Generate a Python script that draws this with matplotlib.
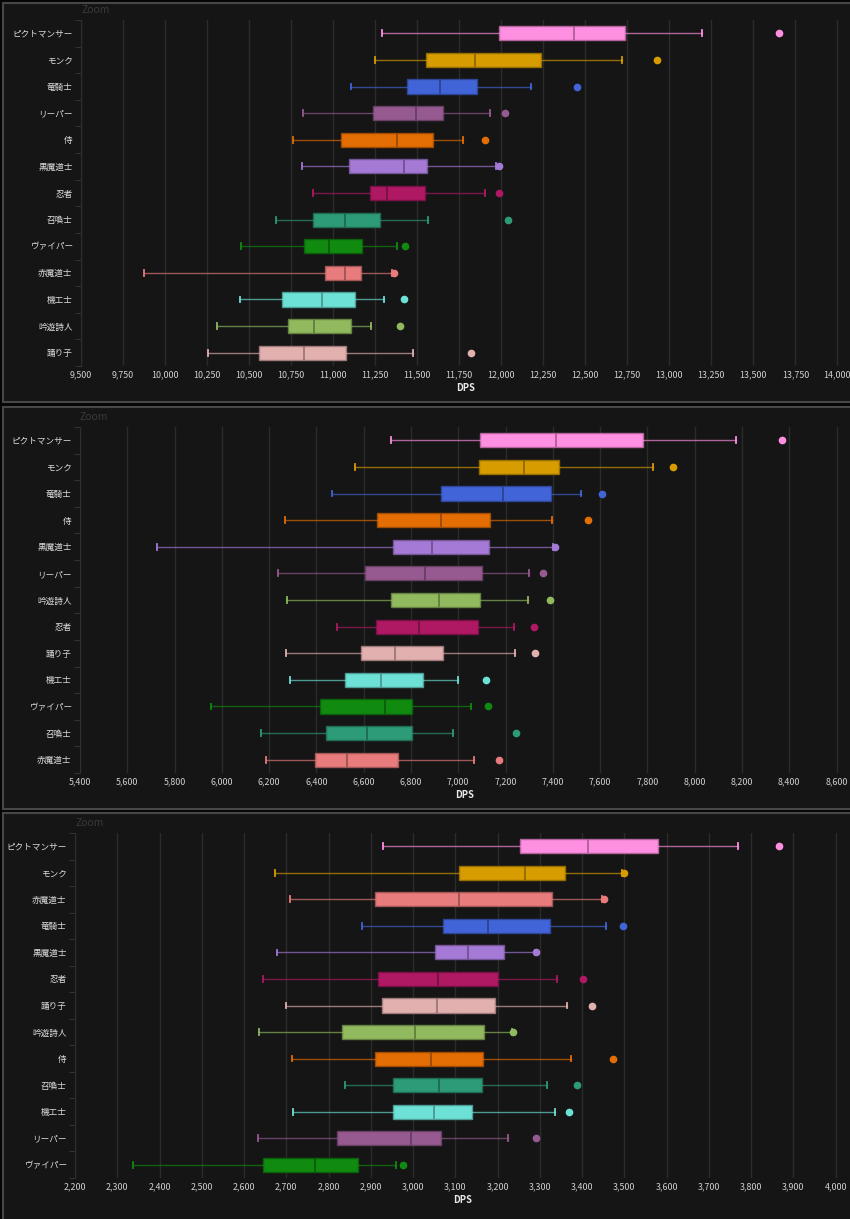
import matplotlib.pyplot as plt
from matplotlib.patches import Rectangle
from matplotlib.ticker import MultipleLocator, StrMethodFormatter, FixedLocator
from matplotlib.colors import to_rgb

plt.rcParams['font.family'] = ['Noto Sans CJK JP', 'DejaVu Sans']

# --- panel 1 ---
jobs_a = ['ピクトマンサー', 'モンク', '竜騎士', 'リーパー', '侍', '黒魔道士', '忍者',
          '召喚士', 'ヴァイパー', '赤魔道士', '機工士', '吟遊詩人', '踊り子']
lo_a = [11288, 11248, 11107, 10820, 10760, 10812, 10883, 10661, 10449, 9873, 10445, 10310, 10258]
q1_a = [11986, 11554, 11440, 11236, 11048, 11094, 11218, 10883, 10827, 10949, 10693, 10734, 10558]
med_a = [12431, 11845, 11637, 11492, 11379, 11423, 11318, 11068, 10974, 11071, 10933, 10885, 10826]
q3_a = [12736, 12234, 11853, 11653, 11592, 11556, 11548, 11280, 11171, 11167, 11133, 11107, 11077]
hi_a = [13193, 12717, 12175, 11933, 11772, 11970, 11901, 11564, 11377, 11353, 11304, 11224, 11476]
out_a = [13653, 12927, 12449, 12024, 11901, 11986, 11985, 12042, 11427, 11361, 11421, 11395, 11818]

# --- panel 2 ---
jobs_b = ['ピクトマンサー', 'モンク', '竜騎士', '侍', '黒魔道士', 'リーパー', '吟遊詩人',
          '忍者', '踊り子', '機工士', 'ヴァイパー', '召喚士', '赤魔道士']
lo_b = [6715, 6564, 6466, 6268, 5727, 6237, 6277, 6488, 6272, 6288, 5955, 6167, 6188]
q1_b = [7094, 7088, 6925, 6656, 6726, 6605, 6715, 6654, 6588, 6522, 6416, 6439, 6395]
med_b = [7413, 7276, 7189, 6926, 6888, 6860, 6918, 6833, 6732, 6675, 6691, 6615, 6530]
q3_b = [7782, 7428, 7392, 7136, 7132, 7102, 7093, 7083, 6936, 6850, 6805, 6805, 6743]
hi_b = [8174, 7825, 7521, 7398, 7402, 7301, 7296, 7235, 7238, 7001, 7053, 6977, 7067]
out_b = [8370, 7907, 7607, 7549, 7410, 7360, 7390, 7322, 7325, 7118, 7126, 7246, 7174]

# --- panel 3 ---
jobs_c = ['ピクトマンサー', 'モンク', '赤魔道士', '竜騎士', '黒魔道士', '忍者', '踊り子',
          '吟遊詩人', '侍', '召喚士', '機工士', 'リーパー', 'ヴァイパー']
lo_c = [2930, 2673, 2708, 2878, 2677, 2646, 2699, 2635, 2714, 2840, 2716, 2632, 2337]
q1_c = [3254, 3109, 2910, 3072, 3053, 2916, 2926, 2833, 2910, 2953, 2953, 2821, 2646]
med_c = [3414, 3266, 3109, 3178, 3130, 3059, 3056, 3005, 3042, 3062, 3050, 2996, 2769]
q3_c = [3579, 3360, 3328, 3324, 3216, 3202, 3195, 3168, 3165, 3164, 3140, 3067, 2869]
hi_c = [3770, 3494, 3446, 3456, 3288, 3341, 3364, 3235, 3373, 3316, 3336, 3224, 2960]
out_c = [3866, 3500, 3451, 3496, 3292, 3403, 3423, 3236, 3473, 3387, 3370, 3291, 2976]

colors = {
    'ピクトマンサー': '#ff8fe1', 'モンク': '#d69c00', '竜騎士': '#4164d8',
    'リーパー': '#965a90', '侍': '#e46d04', '黒魔道士': '#a579d6',
    '忍者': '#af1964', '召喚士': '#2d9b78', 'ヴァイパー': '#108a0f',
    '赤魔道士': '#e87b7b', '機工士': '#6ee1d6', '吟遊詩人': '#91ba5e',
    '踊り子': '#e2b0af',
}


def shade(c, f):
    r, g, b = to_rgb(c)
    return (r * f, g * f, b * f)


W, H = 850, 1219
fig = plt.figure(figsize=(W / 100, H / 100), dpi=100, facecolor='#050505')

# (data, xlim, step, axes top, axes bottom, axes left, panel top, panel bottom, zoom y)
panels = [
    ((jobs_a, lo_a, q1_a, med_a, q3_a, hi_a, out_a), (9500, 14075), 250, 20, 366, 81, 3, 402, 10),
    ((jobs_b, lo_b, q1_b, med_b, q3_b, hi_b, out_b), (5400, 8657), 200, 427, 773, 80, 407, 809, 417),
    ((jobs_c, lo_c, q1_c, med_c, q3_c, hi_c, out_c), (2200, 4034), 100, 833, 1178, 75, 813, 1222, 823),
]

for data, xlim, step, top, bottom, left, ptop, pbot, zy in panels:
    fig.add_artist(Rectangle((3 / W, 1 - pbot / H), 1, (pbot - ptop) / H,
                             transform=fig.transFigure, facecolor='#151515',
                             edgecolor='#474747', lw=1.5, zorder=0))
    ax = fig.add_axes([left / W, 1 - bottom / H, (W - left) / W, (bottom - top) / H])
    ax.patch.set_alpha(0)
    jobs, lo, q1, med, q3, hi, out = data
    stats = []
    for i in range(len(jobs)):
        stats.append({'whislo': lo[i], 'q1': q1[i], 'med': med[i], 'q3': q3[i],
                      'whishi': hi[i], 'fliers': [out[i]]})
    pos = list(range(len(jobs)))
    art = ax.bxp(stats, positions=pos, widths=0.53, capwidths=0.22,
                 orientation='horizontal', patch_artist=True, zorder=3)
    for i, job in enumerate(jobs):
        c = colors[job]
        art['boxes'][i].set(facecolor=c, edgecolor=shade(c, 0.7), lw=1)
        art['medians'][i].set(color=shade(c, 0.65), lw=1.2)
        for w in art['whiskers'][2 * i:2 * i + 2]:
            w.set(color=c, alpha=0.65, lw=1)
        for cp in art['caps'][2 * i:2 * i + 2]:
            cp.set(color=c, lw=1.3)
        art['fliers'][i].set(marker='o', markerfacecolor=c, markeredgecolor=c,
                             markersize=4.5)
    ax.set_xlim(*xlim)
    ax.set_ylim(len(jobs) - 0.5, -0.5)
    ax.xaxis.set_major_locator(MultipleLocator(step))
    ax.xaxis.set_major_formatter(StrMethodFormatter('{x:,.0f}'))
    ax.set_yticks(pos)
    ax.set_yticklabels(jobs)
    ax.yaxis.set_minor_locator(FixedLocator([p - 0.5 for p in pos] + [len(jobs) - 0.5]))
    ax.tick_params(axis='y', which='major', length=0, pad=6, labelsize=6.2, labelcolor='#dcdcdc')
    ax.tick_params(axis='y', which='minor', length=4, color='#3a3a3a')
    ax.tick_params(axis='x', length=0, pad=3, labelsize=6.4, labelcolor='#d0d0d0')
    ax.grid(axis='x', color='#2b2b2b', lw=1)
    ax.set_axisbelow(True)
    for s in ['top', 'right', 'bottom']:
        ax.spines[s].set_visible(False)
    ax.spines['left'].set_color('#2e2e2e')
    ax.set_xlabel('DPS', fontsize=6.8, fontweight='bold', color='#e8e8e8', labelpad=3)
    fig.text(left / W, 1 - zy / H, 'Zoom', fontsize=7.5, color='#3a3a3a', va='center', ha='left')

fig.savefig('out.png', dpi=100, facecolor=fig.get_facecolor())
